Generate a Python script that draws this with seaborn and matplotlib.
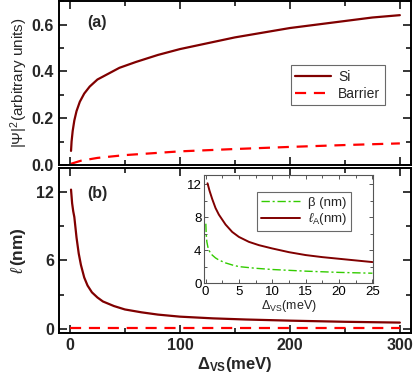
import numpy as np
import pandas as pd
import seaborn as sns
import matplotlib
matplotlib.use("Agg")
import matplotlib.pyplot as plt
from matplotlib.ticker import MultipleLocator

# (a) 확률밀도
si_x = [1, 1.5, 2.5, 4, 6, 9, 13, 18, 25, 35, 45, 60, 80, 100, 125, 150, 175, 200, 225, 250, 275, 300]
si_y = [0.06, 0.10, 0.145, 0.19, 0.23, 0.27, 0.305, 0.335, 0.365, 0.39, 0.415, 0.44, 0.47, 0.495,
        0.52, 0.545, 0.565, 0.585, 0.60, 0.615, 0.63, 0.64]
bar_x = [1, 10, 25, 50, 100, 150, 200, 250, 300]
bar_y = [0.005, 0.018, 0.03, 0.042, 0.058, 0.068, 0.077, 0.085, 0.092]

# (b) 길이
ell_x = [1, 1.5, 2, 3, 4, 5, 6, 8, 10, 13, 16, 20, 25, 30, 40, 50, 65, 80, 100, 130, 160, 200, 250, 300]
ell_y = [12.2, 11.6, 11.0, 10.3, 9.8, 8.9, 8.0, 6.6, 5.6, 4.5, 3.8, 3.2, 2.75, 2.4, 2.0, 1.7,
         1.45, 1.25, 1.07, 0.92, 0.82, 0.72, 0.62, 0.55]
ellb_x = [0, 300]
ellb_y = [0.1, 0.1]

# inset
la_x = [0.3, 0.6, 1, 1.5, 2, 3, 4, 5, 6.5, 8, 10, 12.5, 15, 17.5, 20, 22.5, 25]
la_y = [12.1, 11.2, 10.2, 9.1, 8.3, 7.1, 6.2, 5.6, 5.0, 4.6, 4.2, 3.75, 3.4, 3.15, 2.95, 2.75, 2.55]
beta_x = [0.05, 0.1, 0.2, 0.35, 0.5, 0.75, 1, 1.5, 2, 3, 4, 5, 7.5, 10, 12.5, 15, 20, 25]
beta_y = [7.2, 6.0, 5.0, 4.4, 4.0, 3.65, 3.4, 3.05, 2.8, 2.45, 2.2, 2.0, 1.8, 1.65, 1.55, 1.45, 1.3, 1.2]

DARK = "#800000"
RED = "#ff0000"
GREEN = "#33cc00"


def set_config():
    sns.set_theme(style="ticks")
    plt.rcParams["font.family"] = ["Liberation Sans", "DejaVu Sans"]
    plt.rcParams["mathtext.fontset"] = "custom"
    plt.rcParams["mathtext.rm"] = "Liberation Sans"
    plt.rcParams["mathtext.it"] = "Liberation Sans:italic"
    plt.rcParams["mathtext.bf"] = "Liberation Sans:bold"
    plt.rcParams["axes.linewidth"] = 1.4
    plt.rcParams["axes.edgecolor"] = "black"
    plt.rcParams["xtick.direction"] = "in"
    plt.rcParams["ytick.direction"] = "in"


def style_ax(ax, bold=True, size=11.5):
    ax.tick_params(which="both", top=True, right=True, width=1.1, color="black")
    ax.tick_params(which="major", length=6)
    ax.tick_params(which="minor", length=3.5)
    for lab in ax.get_xticklabels() + ax.get_yticklabels():
        lab.set_fontweight("bold" if bold else "normal")
        lab.set_fontsize(size)


def main():
    set_config()
    fig = plt.figure(figsize=(4.15, 3.74), dpi=100)
    ax1 = fig.add_axes([0.142, 0.559, 0.848, 0.438])
    ax2 = fig.add_axes([0.142, 0.110, 0.848, 0.441])

    # (a)
    sns.lineplot(x=si_x, y=si_y, ax=ax1, color=DARK, lw=1.6, label="Si")
    sns.lineplot(x=bar_x, y=bar_y, ax=ax1, color=RED, lw=1.6, dashes=(5, 3.5), label="Barrier")
    ax1.set_xlim(-10, 310)
    ax1.set_ylim(0, 0.7)
    ax1.xaxis.set_major_locator(MultipleLocator(100))
    ax1.xaxis.set_minor_locator(MultipleLocator(50))
    ax1.yaxis.set_major_locator(MultipleLocator(0.2))
    ax1.yaxis.set_minor_locator(MultipleLocator(0.1))
    ax1.set_xticklabels([])
    ax1.set_xlabel("")
    ax1.set_ylabel(r"$|\Psi|^2$(arbitrary units)", fontsize=11, labelpad=1)
    style_ax(ax1)
    ax1.text(0.08, 0.84, "(a)", transform=ax1.transAxes, fontsize=11.5, fontweight="bold")
    leg = ax1.legend(loc="upper left", bbox_to_anchor=(0.64, 0.65), fontsize=10,
                     frameon=True, fancybox=False, handlelength=2.6,
                     borderpad=0.3, labelspacing=0.25, handletextpad=0.5)
    leg.get_frame().set_edgecolor("#444444")
    leg.get_frame().set_linewidth(0.8)

    # (b)
    sns.lineplot(x=ell_x, y=ell_y, ax=ax2, color=DARK, lw=1.6)
    sns.lineplot(x=ellb_x, y=ellb_y, ax=ax2, color=RED, lw=1.6, dashes=(5, 3.5))
    ax2.set_xlim(-10, 310)
    ax2.set_ylim(-0.35, 14.1)
    ax2.xaxis.set_major_locator(MultipleLocator(100))
    ax2.xaxis.set_minor_locator(MultipleLocator(50))
    ax2.yaxis.set_major_locator(MultipleLocator(6))
    ax2.yaxis.set_minor_locator(MultipleLocator(3))
    ax2.set_xlabel(r"$\mathbf{\Delta_{VS}}$(meV)", fontsize=12, fontweight="bold", labelpad=2)
    ax2.set_ylabel(r"$\ell\,$(nm)", fontsize=12.5, fontweight="bold", labelpad=6)
    style_ax(ax2)
    ax2.text(0.08, 0.82, "(b)", transform=ax2.transAxes, fontsize=11.5, fontweight="bold")

    # inset
    ax3 = fig.add_axes([0.492, 0.243, 0.407, 0.289])
    sns.lineplot(x=beta_x, y=beta_y, ax=ax3, color=GREEN, lw=1.0, label="β (nm)")
    ax3.lines[-1].set_dashes((6, 2, 1.5, 2))
    sns.lineplot(x=la_x, y=la_y, ax=ax3, color=DARK, lw=1.4, label=r"$\ell_{\rm A}$(nm)")
    ax3.set_xlim(-0.2, 25.1)
    ax3.set_ylim(0, 13.1)
    ax3.xaxis.set_major_locator(MultipleLocator(5))
    ax3.xaxis.set_minor_locator(MultipleLocator(2.5))
    ax3.yaxis.set_major_locator(MultipleLocator(4))
    ax3.yaxis.set_minor_locator(MultipleLocator(2))
    ax3.set_xlabel(r"$\Delta_{\rm VS}$(meV)", fontsize=9, labelpad=0)
    for sp in ax3.spines.values():
        sp.set_linewidth(0.8)
        sp.set_color("#555555")
    ax3.tick_params(which="both", top=True, right=True, width=0.7, colors="#555555", labelcolor="black", pad=2)
    ax3.tick_params(which="major", length=3)
    ax3.tick_params(which="minor", length=2)
    for lab in ax3.get_xticklabels() + ax3.get_yticklabels():
        lab.set_fontsize(9.5)
    leg3 = ax3.legend(loc="upper right", bbox_to_anchor=(0.91, 0.9), fontsize=9.5,
                      frameon=True, fancybox=False, handlelength=3.0,
                      borderpad=0.3, labelspacing=0.2, handletextpad=0.6)
    leg3.get_frame().set_edgecolor("#444444")
    leg3.get_frame().set_linewidth(0.8)

    fig.savefig("out.png", dpi=100)


if __name__ == "__main__":
    main()
